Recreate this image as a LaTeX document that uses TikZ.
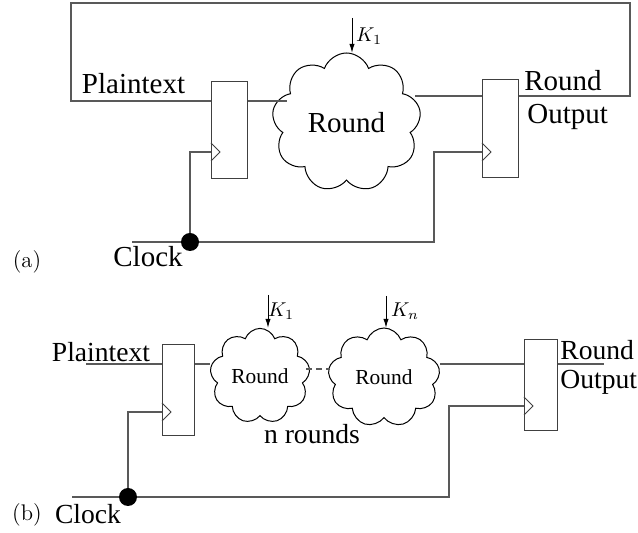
\documentclass[tikz,border=0pt]{standalone}
\usepackage{fontspec}
\setmainfont{Liberation Serif}
\newfontfamily\lmfont{Latin Modern Roman}
\usetikzlibrary{shapes.symbols,arrows.meta}
\begin{document}
\begin{tikzpicture}[x=0.5pt,y=-0.5pt,
  wire/.style={draw=black!65,line width=0.7pt},
  key/.style={draw=black,line width=0.5pt,-{Latex[length=4.5pt,width=2.6pt]}},
  reg/.style={draw=black!75,line width=0.7pt,rectangle,inner sep=0pt,anchor=north west},
  rnd/.style={draw=black,line width=0.5pt,cloud,cloud puffs=9,cloud puff arc=140,inner sep=0pt},
  big/.style={inner sep=0pt,font=\fontsize{14.5}{16}\selectfont},
  bigb/.style={inner sep=0pt,font=\fontsize{13.8}{16}\selectfont},
  small/.style={inner sep=0pt,font=\fontsize{10.7}{12}\selectfont},
  klab/.style={inner sep=0pt,font=\fontsize{10}{12}\selectfont},
  tag/.style={inner sep=0pt,font=\lmfont\fontsize{11.3}{13}\selectfont},
  dot/.style={circle,fill=black,inner sep=0pt,minimum size=9pt}]
\useasboundingbox (0,0) rectangle (638,533);

% ---------------- (a) ----------------
\node[reg,minimum width=18pt,minimum height=48.5pt] (ra1) at (211,81) {};
\node[reg,minimum width=18pt,minimum height=49pt] (ra2) at (482,79) {};
\node[rnd,big,minimum width=74.5pt,minimum height=69.5pt] (ca) at (346.5,122.5) {Round};
\node[dot] (da) at (190,242) {};

\coordinate (ca-in) at (287,101);
\coordinate (ca-out) at (415,96);
\coordinate (ka) at (352,18);
\coordinate (ka-end) at (352,53);
\coordinate (la-tl) at (71,3);
\coordinate (la-tr) at (630,3);
\coordinate (clka) at (132,242);
\coordinate (clka-turn) at (434,242);

% feedback loop
\draw[wire] (ra2.east |- 0,96) -- (la-tr |- 0,96) -- (la-tr) -- (la-tl) -- (la-tl |- 0,101) -- (ra1.west |- 0,101);
\draw[wire] (ra1.east |- 0,101) -- (ca-in);
\draw[wire] (ca-out) -- (ra2.west |- 0,96);
\draw[key] (ka) -- (ka-end);
% clock
\draw[wire] (clka) -- (da) -- (clka-turn) -- (clka-turn |- 0,152) -- (ra2.west |- 0,152);
\draw[wire] (da) -- (da |- 0,152) -- (ra1.west |- 0,152);
% clock triangles
\draw[line width=0.5pt,black!75] (ra1.west |- 0,143) -- ++(9,9) -- ++(-9,9);
\draw[line width=0.5pt,black!75] (ra2.west |- 0,143) -- ++(9,9) -- ++(-9,9);

\node[big] (pa) at (133.5,84) {Plaintext};
\node[big,anchor=west] (roa) at (524,81) {Round};
\node[big,anchor=west] (ooa) at (527,117) {Output};
\node[big] (cka) at (148,257) {Clock};
\node[klab] (k1a) at (369,36) {$K_1$};
\node[tag] (ta) at (27,262) {(a)};

% ---------------- (b) ----------------
\node[reg,minimum width=16pt,minimum height=45.5pt] (rb1) at (162,344) {};
\node[reg,minimum width=16.5pt,minimum height=45.5pt] (rb2) at (524,339) {};
\node[rnd,small,minimum width=50pt,minimum height=47.5pt] (cb1) at (260,376) {Round};
\node[rnd,small,minimum width=56pt,minimum height=49.5pt] (cb2) at (384,377.5) {Round};
\node[dot] (db) at (128,497) {};

\coordinate (pb-start) at (86,364);
\coordinate (cb1-in) at (210,364);
\coordinate (cb1-out) at (306,369);
\coordinate (cb2-in) at (330,369);
\coordinate (cb2-out) at (440,364);
\coordinate (ob-end) at (604,364);
\coordinate (k1b) at (268,295);
\coordinate (k1b-end) at (268,328);
\coordinate (knb) at (386,296);
\coordinate (knb-end) at (386,328);
\coordinate (clkb) at (72,497);
\coordinate (clkb-turn) at (449,497);

\draw[wire] (pb-start) -- (rb1.west |- 0,364);
\draw[wire] (rb1.east |- 0,364) -- (cb1-in);
\draw[wire,dashed,dash pattern=on 3pt off 2pt] (cb1-out) -- (cb2-in);
\draw[wire] (cb2-out) -- (rb2.west |- 0,364);
\draw[wire] (rb2.east |- 0,364) -- (ob-end);
\draw[key] (k1b) -- (k1b-end);
\draw[key] (knb) -- (knb-end);
\draw[wire] (clkb) -- (db) -- (clkb-turn) -- (clkb-turn |- 0,406) -- (rb2.west |- 0,406);
\draw[wire] (db) -- (db |- 0,412) -- (rb1.west |- 0,412);
\draw[line width=0.5pt,black!75] (rb1.west |- 0,403) -- ++(9,9) -- ++(-9,9);
\draw[line width=0.5pt,black!75] (rb2.west |- 0,397) -- ++(9,9) -- ++(-9,9);

\node[bigb] (pb) at (101,352) {Plaintext};
\node[bigb,anchor=west] (rob) at (560,350) {Round};
\node[bigb,anchor=west] (oob) at (560,382) {Output};
\node[bigb] (ckb) at (88,514) {Clock};
\node[bigb] (nr) at (312,434) {n rounds};
\node[klab] (k1bl) at (281,311) {$K_1$};
\node[klab] (knbl) at (405,311) {$K_n$};
\node[tag] (tb) at (27,515) {(b)};
\end{tikzpicture}
\end{document}
